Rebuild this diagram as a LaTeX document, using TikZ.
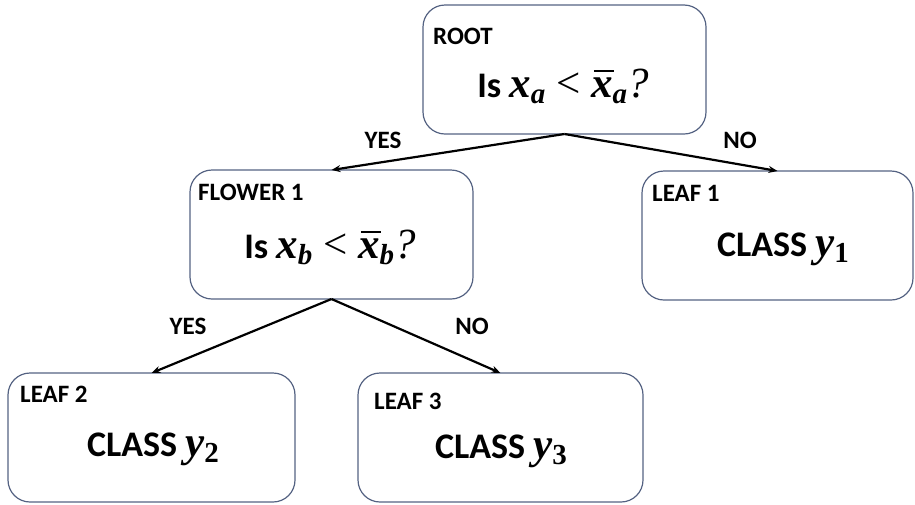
\documentclass[tikz,border=0pt]{standalone}
\usepackage{fontspec}
\setmainfont{Carlito}
\newfontfamily\mathserif{Liberation Serif}
\usetikzlibrary{arrows.meta}
\definecolor{boxline}{RGB}{84,98,130}
\newcommand{\msize}{\fontsize{43}{43}\selectfont}
\newcommand{\ssize}{\fontsize{29}{29}\selectfont}
\newcommand{\msub}[1]{\raisebox{-6.5pt}{\ssize\mathserif\bfseries #1}}
\newcommand{\mvar}[2]{{\msize\mathserif\bfseries\itshape #1}\msub{#2}}
\newcommand{\barx}{{\msize\mathserif\bfseries\itshape\leavevmode\rlap{\raisebox{0.58em}{\hspace{0.06em}\rule{0.46em}{0.055em}}}x}}
\newcommand{\lessthan}{\hspace{0.3em}{\msize\mathserif\mdseries <}\hspace{0.3em}}
\newcommand{\qmark}{{\msize\mathserif\mdseries\itshape ?}}
\tikzset{
  box/.style={draw=boxline, line width=1.2pt, rounded corners=22pt, inner sep=0pt, outer sep=0pt, anchor=north west},
  hdr/.style={font=\fontsize{25}{28}\selectfont\bfseries, inner sep=0pt, anchor=base west},
  maintext/.style={font=\fontsize{36}{40}\selectfont\bfseries, inner sep=0pt, anchor=base},
  lbl/.style={font=\fontsize{25}{28}\selectfont\bfseries, inner sep=0pt, anchor=base},
  conn/.style={line width=2.2pt, -{Stealth[length=9pt,width=7pt]}}
}
\begin{document}
\begin{tikzpicture}[x=1pt,y=-1pt]
\useasboundingbox (0,0) rectangle (915,504);
% boxes
\node[box, minimum width=283pt, minimum height=129pt] (root) at (423,5) {};
\node[box, minimum width=283pt, minimum height=129pt] (flower) at (190,170) {};
\node[box, minimum width=271pt, minimum height=129pt] (leafa) at (642,171) {};
\node[box, minimum width=287pt, minimum height=129pt] (leafb) at (8,373) {};
\node[box, minimum width=285pt, minimum height=129pt] (leafc) at (358,373) {};
% headers
\node[hdr] (hroot) at (433,44) {ROOT};
\node[hdr] (hflower) at (198,200) {FLOWER 1};
\node[hdr] (hleafa) at (652,201) {LEAF 1};
\node[hdr] (hleafb) at (20,402) {LEAF 2};
\node[hdr] (hleafc) at (374,409) {LEAF 3};
% main texts
\node[maintext] (troot) at (563,97) {Is \mvar{x}{\itshape a}\lessthan\barx\msub{\itshape a}\qmark};
\node[maintext] (tflower) at (330,258) {Is \mvar{x}{\itshape b}\lessthan\barx\msub{\itshape b}\qmark};
\node[maintext] (tleafa) at (783,256) {CLASS \mvar{y}{1}};
\node[maintext] (tleafb) at (153,456) {CLASS \mvar{y}{2}};
\node[maintext] (tleafc) at (501,458) {CLASS \mvar{y}{3}};
% connectors
\draw[conn] (root.south) -- (flower.north);
\draw[conn] (root.south) -- (leafa.north);
\draw[conn] (flower.south) -- (leafb.north);
\draw[conn] (flower.south) -- (leafc.north);
% labels
\node[lbl] (l1) at (383,148) {YES};
\node[lbl] (l2) at (740,148) {NO};
\node[lbl] (l3) at (188,334) {YES};
\node[lbl] (l4) at (472,334) {NO};
\end{tikzpicture}
\end{document}
